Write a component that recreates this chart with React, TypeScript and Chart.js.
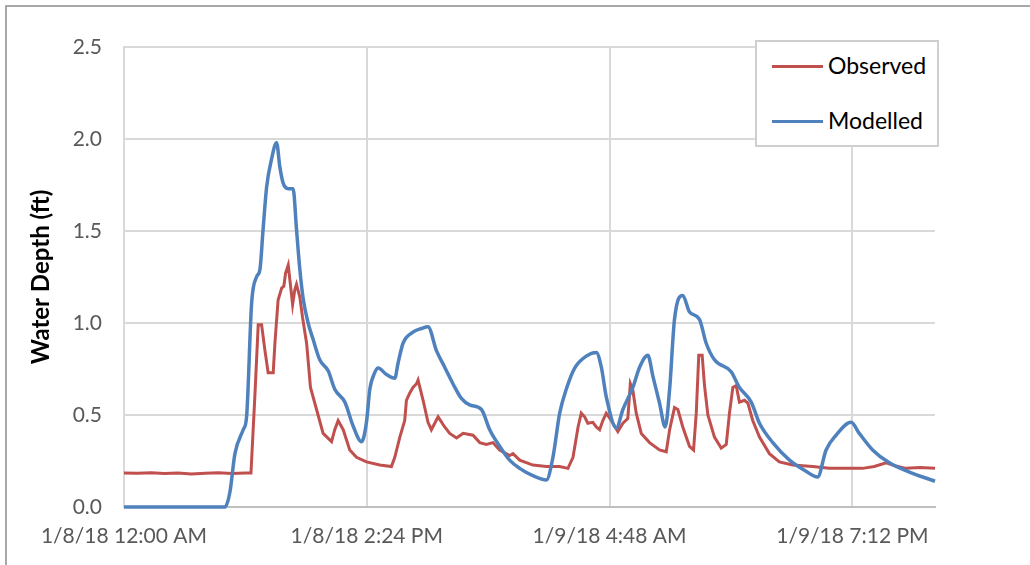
import React, { useEffect, useRef } from "react";
import { Chart, registerables } from "chart.js";

Chart.register(...registerables);

// ---- Data (hours since 1/8/18 12:00 AM) ----
const xTickValues = [0, 14.4, 28.8, 43.2];
const xTickLabels = ["1/8/18 12:00 AM", "1/8/18 2:24 PM", "1/9/18 4:48 AM", "1/9/18 7:12 PM"];

const seriesLabels = ["Observed", "Modelled"];
const seriesColors = ["#C0504D", "#4F81BD"];

const obsTime = [
  0, 0.8, 1.6, 2.4, 3.2, 4.0, 4.8, 5.6, 6.4, 7.2,
  7.53, 7.76, 7.96, 8.16, 8.36, 8.55, 8.85, 8.95, 9.14, 9.35,
  9.48, 9.58, 9.74, 9.88, 10.0, 10.13, 10.23, 10.43, 10.59, 10.83,
  11.06, 11.42, 11.81, 12.31, 12.5, 12.7, 13.0, 13.39, 13.79, 14.38,
  15.17, 15.86, 16.06, 16.36, 16.65, 16.75, 16.95, 17.14, 17.35, 17.44,
  17.74, 18.03, 18.23, 18.63, 19.02, 19.32, 19.72, 20.11, 20.7, 21.1,
  21.49, 21.88, 22.28, 22.87, 23.07, 23.47, 24.25, 25.05, 25.84, 26.33,
  26.63, 26.93, 27.12, 27.32, 27.51, 27.81, 28.01, 28.21, 28.4, 28.6,
  28.9, 29.29, 29.59, 29.88, 30.03, 30.18, 30.38, 30.68, 31.17, 31.76,
  32.16, 32.36, 32.65, 32.85, 33.14, 33.54, 33.78, 33.94, 34.09, 34.29,
  34.43, 34.63, 35.02, 35.42, 35.72, 35.91, 36.11, 36.31, 36.5, 36.8,
  37.0, 37.29, 37.69, 38.28, 38.87, 39.66, 40.85, 41.84, 42.83, 43.81,
  44.5, 45.2, 45.7, 46.38, 47.2, 48.1,
];
const obsDepth = [
  0.185, 0.183, 0.186, 0.182, 0.185, 0.18, 0.184, 0.186, 0.182, 0.185,
  0.185, 0.6, 0.99, 0.99, 0.85, 0.73, 0.73, 0.89, 1.125, 1.19,
  1.2, 1.27, 1.315, 1.2, 1.1, 1.18, 1.21, 1.14, 1.03, 0.89,
  0.65, 0.53, 0.4, 0.355, 0.42, 0.47, 0.42, 0.31, 0.27, 0.245,
  0.228, 0.22, 0.27, 0.38, 0.47, 0.58, 0.62, 0.65, 0.67, 0.69,
  0.58, 0.46, 0.42, 0.49, 0.435, 0.4, 0.375, 0.4, 0.39, 0.35,
  0.34, 0.35, 0.31, 0.28, 0.29, 0.255, 0.228, 0.22, 0.22, 0.21,
  0.27, 0.435, 0.51, 0.49, 0.455, 0.46, 0.435, 0.42, 0.47, 0.51,
  0.47, 0.41, 0.455, 0.48, 0.67, 0.635, 0.51, 0.4, 0.35, 0.31,
  0.3, 0.42, 0.54, 0.53, 0.435, 0.33, 0.31, 0.51, 0.825, 0.825,
  0.66, 0.5, 0.38, 0.32, 0.34, 0.51, 0.65, 0.66, 0.57, 0.58,
  0.565, 0.47, 0.38, 0.29, 0.245, 0.228, 0.22, 0.21, 0.21, 0.21,
  0.22, 0.24, 0.225, 0.21, 0.215, 0.21,
];

const modTime = [
  0, 5.99, 6.28, 6.58, 7.07, 7.27, 7.57, 7.86, 8.06, 8.25,
  8.46, 8.75, 9.05, 9.24, 9.44, 9.74, 10.03, 10.23, 10.43, 10.63,
  10.92, 11.22, 11.61, 12.11, 12.5, 13.1, 13.59, 14.09, 14.38, 14.58,
  14.87, 15.07, 15.57, 16.06, 16.25, 16.55, 17.14, 17.64, 18.03, 18.53,
  19.02, 19.51, 20.01, 20.5, 21.2, 21.69, 22.28, 22.87, 23.47, 24.25,
  25.05, 25.44, 25.84, 26.23, 26.73, 27.42, 28.01, 28.31, 28.6, 29.2,
  29.59, 30.18, 30.58, 31.07, 31.37, 31.76, 32.1, 32.36, 32.65, 33.14,
  33.54, 34.13, 34.53, 35.02, 36.01, 36.5, 37.2, 37.69, 38.48, 39.47,
  40.36, 41.14, 41.64, 42.23, 43.12, 43.61, 44.4, 45.39, 46.58, 48.1,
];
const modDepth = [
  0, 0, 0.08, 0.29, 0.42, 0.49, 1.11, 1.25, 1.29, 1.51,
  1.74, 1.89, 1.98, 1.85, 1.76, 1.73, 1.73, 1.51, 1.29, 1.13,
  1.0, 0.91, 0.8, 0.74, 0.64, 0.57, 0.44, 0.355, 0.46, 0.64,
  0.73, 0.755, 0.72, 0.7, 0.78, 0.89, 0.95, 0.97, 0.98, 0.85,
  0.76, 0.67, 0.59, 0.555, 0.53, 0.42, 0.33, 0.255, 0.21, 0.17,
  0.147, 0.27, 0.51, 0.64, 0.755, 0.82, 0.84, 0.76, 0.6, 0.43,
  0.53, 0.65, 0.76, 0.825, 0.71, 0.565, 0.435, 0.64, 1.02, 1.15,
  1.06, 1.02, 0.89, 0.8, 0.735, 0.65, 0.57, 0.455, 0.35, 0.255,
  0.2, 0.163, 0.31, 0.39, 0.46, 0.4, 0.31, 0.24, 0.19, 0.14,
];

const FONT = "Lato, 'Open Sans', sans-serif";

const framePlugin = {
  id: "frame",
  beforeDraw(chart: any) {
    const ctx = chart.ctx;
    ctx.save();
    ctx.fillStyle = "#ffffff";
    ctx.fillRect(0, 0, chart.width, chart.height);
    ctx.strokeStyle = "#8c8c8c";
    ctx.lineWidth = 1.5;
    ctx.beginPath();
    ctx.moveTo(6, chart.height);
    ctx.lineTo(6, 6);
    ctx.lineTo(chart.width, 6);
    ctx.stroke();
    ctx.restore();
  },
};

export default function App() {
  const canvasRef = useRef<HTMLCanvasElement | null>(null);

  useEffect(() => {
    if (!canvasRef.current) return;
    const toPoints = (xs: number[], ys: number[]) => xs.map((x, i) => ({ x, y: ys[i] }));
    const chart = new Chart(canvasRef.current, {
      type: "line",
      data: {
        datasets: [
          {
            label: seriesLabels[0],
            data: toPoints(obsTime, obsDepth),
            borderColor: seriesColors[0],
            backgroundColor: seriesColors[0],
            borderWidth: 3,
            pointRadius: 0,
            tension: 0,
            order: 2,
            clip: 4,
          },
          {
            label: seriesLabels[1],
            data: toPoints(modTime, modDepth),
            borderColor: seriesColors[1],
            backgroundColor: seriesColors[1],
            borderWidth: 3.5,
            pointRadius: 0,
            cubicInterpolationMode: "monotone",
            order: 1,
            clip: 4,
          },
        ],
      },
      options: {
        responsive: false,
        animation: false,
        maintainAspectRatio: false,
        layout: { padding: { top: 47, right: 95, bottom: 0, left: 0 } },
        plugins: {
          legend: { display: false },
          tooltip: { enabled: false },
        },
        scales: {
          x: {
            type: "linear",
            min: 0,
            max: 48.1,
            afterBuildTicks: (scale: any) => {
              scale.ticks = xTickValues.map((v) => ({ value: v }));
            },
            afterFit: (scale: any) => {
              scale.height = 58;
            },
            grid: { color: "#d9d9d9", lineWidth: 2, drawTicks: false },
            border: { color: "#bfbfbf", width: 2 },
            ticks: {
              padding: 17,
              maxRotation: 0,
              autoSkip: false,
              color: "#595959",
              font: { family: FONT, size: 21 },
              callback: (_v: any, i: number) => xTickLabels[i],
            },
          },
          y: {
            min: 0,
            max: 2.5,
            afterFit: (scale: any) => {
              scale.width = 124;
            },
            grid: { color: "#d9d9d9", lineWidth: 2, drawTicks: false },
            border: { color: "#d9d9d9", width: 2 },
            ticks: {
              stepSize: 0.5,
              padding: 22,
              color: "#595959",
              font: { family: FONT, size: 21 },
              callback: (v: any) => Number(v).toFixed(1),
            },
            title: {
              display: true,
              text: "Water Depth (ft)",
              color: "#000000",
              font: { family: FONT, size: 24, weight: "bold" },
              padding: { top: 27, bottom: 0 },
            },
          },
        },
      },
      plugins: [framePlugin],
    });
    return () => chart.destroy();
  }, []);

  return (
    <div style={{ position: "fixed", left: 0, top: 0, width: 1030, height: 565, background: "#fff" }}>
      <canvas ref={canvasRef} width={1030} height={565} style={{ display: "block" }} />
      <div
        style={{
          position: "absolute",
          left: 755,
          top: 40,
          width: 184,
          height: 107,
          boxSizing: "border-box",
          border: "2px solid #cfcfcf",
          background: "#fff",
          fontFamily: FONT,
          fontSize: 23,
          color: "#000",
        }}
      >
        {seriesLabels.map((label, i) => (
          <div
            key={label}
            style={{ position: "absolute", left: 0, top: i === 0 ? 9 : 64, height: 28, width: "100%" }}
          >
            <div
              style={{
                position: "absolute",
                left: 15,
                top: 13.5,
                width: 51,
                height: 3,
                background: seriesColors[i],
              }}
            />
            <span style={{ position: "absolute", left: 71, top: 0, lineHeight: "28px", whiteSpace: "nowrap" }}>
              {label}
            </span>
          </div>
        ))}
      </div>
    </div>
  );
}
